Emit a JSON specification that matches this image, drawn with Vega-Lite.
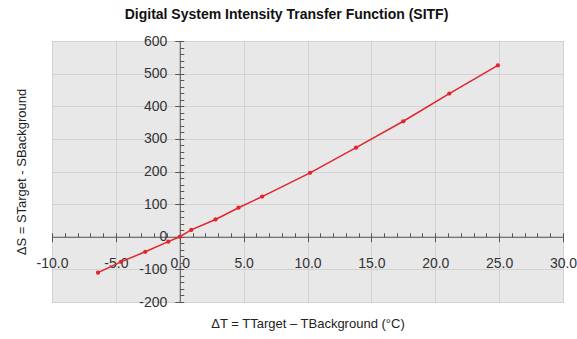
{
  "$schema": "https://vega.github.io/schema/vega-lite/v6.json",
  "width": 511,
  "height": 261,
  "autosize": "none",
  "padding": {"left": 52, "top": 41, "right": 14, "bottom": 37},
  "background": "white",
  "title": {
    "text": "Digital System Intensity Transfer Function (SITF)",
    "font": "Liberation Sans",
    "fontSize": 14,
    "fontWeight": "bold",
    "color": "#111",
    "anchor": "middle",
    "dx": -21,
    "offset": 12
  },
  "data": {
    "values": [
      {"dT": -6.4, "dS": -110},
      {"dT": -4.6, "dS": -77},
      {"dT": -2.7, "dS": -46},
      {"dT": -0.9, "dS": -15},
      {"dT": 0.0, "dS": 0},
      {"dT": 0.9, "dS": 21},
      {"dT": 2.8, "dS": 53},
      {"dT": 4.6, "dS": 89},
      {"dT": 6.45, "dS": 123},
      {"dT": 10.2, "dS": 196},
      {"dT": 13.8, "dS": 273},
      {"dT": 17.5, "dS": 354},
      {"dT": 21.1, "dS": 439},
      {"dT": 24.9, "dS": 525}
    ]
  },
  "layer": [
    {
      "mark": {"type": "line", "color": "#e3242b", "strokeWidth": 1.5},
      "encoding": {
        "x": {
          "field": "dT", "type": "quantitative",
          "scale": {"domain": [-10, 30], "nice": false, "zero": false},
          "axis": {
            "orient": "bottom", "grid": true, "labels": false, "ticks": false, "domain": false,
            "values": [-10, -5, 0, 5, 10, 15, 20, 25, 30],
            "title": "ΔT = TTarget – TBackground (°C)",
            "titleFont": "Liberation Sans", "titleFontSize": 13, "titleFontWeight": "normal",
            "titleColor": "#222", "titlePadding": 15,
            "gridColor": "#d2d2d2", "gridWidth": 1
          }
        },
        "y": {
          "field": "dS", "type": "quantitative",
          "scale": {"domain": [-200, 600], "nice": false, "zero": false},
          "axis": {
            "orient": "left", "grid": true, "labels": false, "ticks": false, "domain": false,
            "values": [-200, -100, 0, 100, 200, 300, 400, 500, 600],
            "title": "ΔS = STarget - SBackground",
            "titleFont": "Liberation Sans", "titleFontSize": 13, "titleFontWeight": "normal",
            "titleColor": "#222", "titlePadding": 24,
            "gridColor": "#d2d2d2", "gridWidth": 1
          }
        }
      }
    },
    {
      "mark": {"type": "point", "filled": true, "color": "#e3242b", "size": 18, "opacity": 1},
      "encoding": {
        "x": {
          "field": "dT", "type": "quantitative",
          "axis": {
            "orient": "bottom", "offset": -65.25, "grid": false, "title": null,
            "values": [-10, -5, 0, 5, 10, 15, 20, 25, 30],
            "format": ".1f", "labelExpr": "replace(datum.label, '−', '-')",
            "labelFont": "Liberation Sans", "labelFontSize": 14,
            "labelColor": "#333", "labelPadding": 15, "tickSize": 5, "tickColor": "#555",
            "domainColor": "#555", "labelFlush": false, "labelOverlap": false
          }
        },
        "y": {
          "field": "dS", "type": "quantitative",
          "axis": {
            "orient": "left", "offset": -127.75, "grid": false, "title": null,
            "values": [-200, -100, 0, 100, 200, 300, 400, 500, 600],
            "labelExpr": "replace(datum.label, '−', '-')",
            "labelFont": "Liberation Sans", "labelFontSize": 14,
            "labelColor": "#333", "labelPadding": 8, "tickSize": 5, "tickColor": "#555",
            "domainColor": "#555", "labelFlush": false, "labelOverlap": false
          }
        }
      }
    },
    {
      "mark": {"type": "point", "opacity": 0},
      "encoding": {
        "x": {
          "field": "dT", "type": "quantitative",
          "axis": {
            "orient": "bottom", "offset": -65.25, "grid": false, "title": null,
            "labels": false, "domain": false,
            "values": [-10, -9, -8, -7, -6, -5, -4, -3, -2, -1, 0, 1, 2, 3, 4, 5, 6, 7, 8, 9, 10, 11, 12, 13, 14, 15, 16, 17, 18, 19, 20, 21, 22, 23, 24, 25, 26, 27, 28, 29, 30],
            "tickSize": -4, "tickColor": "#555"
          }
        },
        "y": {
          "field": "dS", "type": "quantitative",
          "axis": {
            "orient": "left", "offset": -127.75, "grid": false, "title": null,
            "labels": false, "domain": false,
            "values": [-200, -180, -160, -140, -120, -100, -80, -60, -40, -20, 0, 20, 40, 60, 80, 100, 120, 140, 160, 180, 200, 220, 240, 260, 280, 300, 320, 340, 360, 380, 400, 420, 440, 460, 480, 500, 520, 540, 560, 580, 600],
            "tickSize": -4, "tickColor": "#555"
          }
        }
      }
    }
  ],
  "resolve": {"axis": {"x": "independent", "y": "independent"}},
  "config": {
    "view": {"fill": "#e8e8e8", "stroke": "#cccccc", "strokeWidth": 1}
  }
}
